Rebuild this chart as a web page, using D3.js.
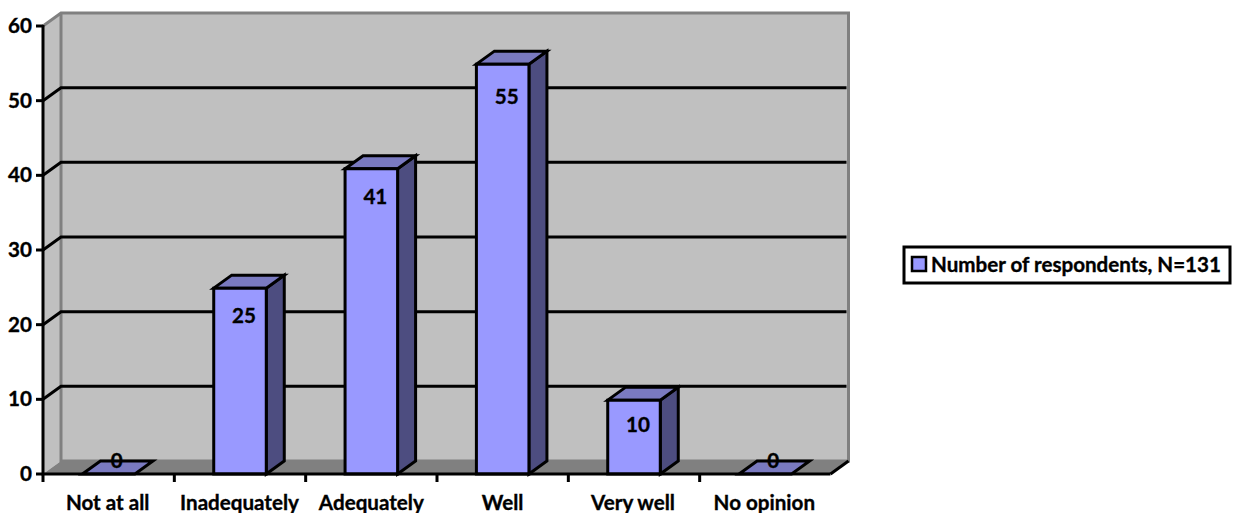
<!DOCTYPE html>
<html><head><meta charset="utf-8">
<script src="https://cdnjs.cloudflare.com/ajax/libs/d3/7.8.5/d3.min.js"></script>
<style>html,body{margin:0;padding:0;background:#fff}svg{display:block}text{font-family:Lato,"Open Sans",sans-serif;font-weight:700;fill:#000;stroke:#000;stroke-width:.35px}</style>
</head><body><svg id="c" width="1233" height="513"></svg>
<script>
const categories=["Not at all","Inadequately","Adequately","Well","Very well","No opinion"];
const values=[0,25,41,55,10,0];
const yTicks=[0,10,20,30,40,50,60];
const seriesName="Number of respondents, N=131";
const svg=d3.select("#c");
const dx=18,dy=-13,fs=20.6,sw=3,barNudge=0.8;
const labelDrop=[0,35,35,40,32,0];
const x=d3.scaleBand().domain(categories).range([43,831]).paddingInner(0.6).paddingOuter(0.3);
const tickX=d3.scaleLinear().domain([0,6]).range([43,831]);
const y=d3.scaleLinear().domain([0,60]).range([474,26]);
const poly=(pts,fill,stroke,w)=>svg.append("polygon").attr("points",pts.map(p=>p.join(",")).join(" ")).attr("fill",fill).attr("stroke",stroke).attr("stroke-width",w).attr("stroke-linejoin","miter");
const L=43,R=830.5,B=y(0),T=y(60);
poly([[L,B],[L+dx,B+dy],[L+dx,T+dy],[L,T]],"#c0c0c0","none",0);
poly([[L+dx,B+dy],[R+dx,B+dy],[R+dx,T+dy],[L+dx,T+dy]],"#c0c0c0","none",0);
poly([[L,B],[R,B],[R+dx,B+dy],[L+dx,B+dy]],"#808080","none",0);
const grey="#808080";
svg.append("path").attr("d",`M${L},${T}L${L+dx},${T+dy}H${R+dx}V${B+dy}H${L+dx}V${T+dy}`).attr("fill","none").attr("stroke",grey).attr("stroke-width",3);
svg.append("g").selectAll("path").data(yTicks.filter(t=>t>0&&t<60)).join("path")
 .attr("d",t=>`M${L},${y(t)}L${L+dx},${y(t)+dy}H${R+dx-2}`).attr("fill","none").attr("stroke","#000").attr("stroke-width",sw);
svg.append("path").attr("d",`M${R},${B}L${R+dx},${B+dy}`).attr("stroke","#000").attr("stroke-width",sw);
categories.forEach((c,i)=>{
 const v=values[i],x0=x(c),x1=x0+x.bandwidth(),yt=y(v)+barNudge;
 if(v>0){
  poly([[x1,yt],[x1+dx,yt+dy],[x1+dx,B+dy],[x1,B]],"#4d4d80","#000",sw);
  poly([[x0,yt],[x0+dx,yt+dy],[x1+dx,yt+dy],[x1,yt]],"#7a7ac0","#000",sw);
  poly([[x0,yt],[x1,yt],[x1,B],[x0,B]],"#9999ff","#000",sw);
 } else {
  poly([[x0,B],[x0+dx,B+dy],[x1+dx,B+dy],[x1,B]],"#7a7ac0","#000",sw);
 }
});
svg.append("path").attr("d",`M${L},${T-1}V${B}H${R}`).attr("fill","none").attr("stroke","#000").attr("stroke-width",sw);
svg.append("g").selectAll("path").data(yTicks).join("path").attr("d",t=>`M${L-7},${y(t)}H${L}`).attr("stroke","#000").attr("stroke-width",sw);
svg.append("g").selectAll("path").data(d3.range(6)).join("path").attr("d",i=>`M${tickX(i)},${B}v8`).attr("stroke","#000").attr("stroke-width",sw);
svg.append("g").selectAll("text").data(yTicks).join("text").attr("x",32).attr("y",t=>y(t)+7).attr("text-anchor","end").attr("font-size",fs).text(t=>t);
svg.append("g").selectAll("text").data(categories).join("text").attr("x",(c,i)=>x(c)+x.bandwidth()/2-[1,0.5,0,0,1,1][i]).attr("y",510).attr("text-anchor","middle").attr("font-size",fs).text(c=>c);
svg.append("g").selectAll("text").data(categories).join("text")
 .attr("x",(c,i)=>x(c)+x.bandwidth()/2+(values[i]?4:8))
 .attr("y",(c,i)=>values[i]?y(values[i])+labelDrop[i]+1:468)
 .attr("text-anchor","middle").attr("font-size",fs).text((c,i)=>values[i]);
svg.append("rect").attr("x",904).attr("y",247).attr("width",326).attr("height",36).attr("fill","#fff").attr("stroke","#000").attr("stroke-width",sw);
svg.append("rect").attr("x",912).attr("y",257).attr("width",14).attr("height",14).attr("fill","#9999ff").attr("stroke","#000").attr("stroke-width",2.5);
svg.append("text").attr("x",931).attr("y",272).attr("font-size",fs).text(seriesName);
</script></body></html>
